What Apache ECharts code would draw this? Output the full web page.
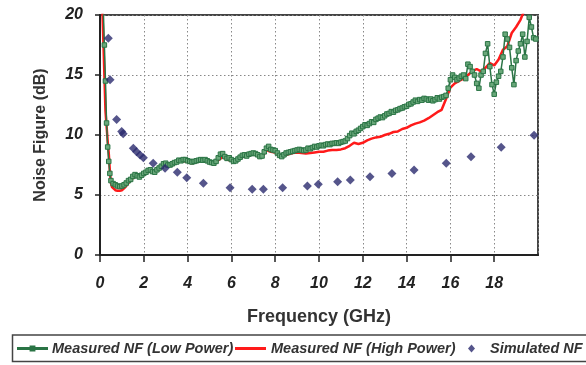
<!DOCTYPE html>
<html>
<head>
<meta charset="utf-8">
<script src="https://cdn.jsdelivr.net/npm/echarts@6/dist/echarts.min.js"></script>
<style>html,body{margin:0;padding:0;background:#fff;}#c{width:586px;height:365px;}</style>
</head>
<body>
<div id="c"></div>
<script>
// Measured NF (Low Power)
var freqLow = [0.10,0.15,0.20,0.25,0.30,0.35,0.40,0.45,0.50,0.60,0.70,0.80,0.90,1.00,1.10,1.20,1.30,1.40,1.50,1.60,1.70,1.80,1.90,2.00,2.10,2.20,2.30,2.40,2.50,2.60,2.70,2.80,2.90,3.00,3.10,3.20,3.30,3.40,3.50,3.60,3.70,3.80,3.90,4.00,4.10,4.20,4.30,4.40,4.50,4.60,4.70,4.80,4.90,5.00,5.10,5.20,5.30,5.40,5.50,5.60,5.70,5.80,5.90,6.00,6.10,6.20,6.30,6.40,6.50,6.60,6.70,6.80,6.90,7.00,7.10,7.20,7.30,7.40,7.50,7.60,7.70,7.80,7.90,8.00,8.10,8.20,8.30,8.40,8.50,8.60,8.70,8.80,8.90,9.00,9.10,9.20,9.30,9.40,9.50,9.60,9.70,9.80,9.90,10.0,10.1,10.2,10.3,10.4,10.5,10.6,10.7,10.8,10.9,11.0,11.1,11.2,11.3,11.4,11.5,11.6,11.7,11.8,11.9,12.0,12.1,12.2,12.3,12.4,12.5,12.6,12.7,12.8,12.9,13.0,13.1,13.2,13.3,13.4,13.5,13.6,13.7,13.8,13.9,14.0,14.1,14.2,14.3,14.4,14.5,14.6,14.7,14.8,14.9,15.0,15.1,15.2,15.3,15.4,15.5,15.6,15.7,15.8,15.9,16.0,16.1,16.2,16.3,16.4,16.5,16.6,16.7,16.8,16.9,17.0,17.1,17.2,17.3,17.4,17.5,17.6,17.7,17.8,17.9,18.0,18.1,18.2,18.3,18.4,18.5,18.6,18.7,18.8,18.9,19.0,19.1,19.2,19.3,19.4,19.5,19.6,19.7,19.8,19.9];
var nfLow = [23,20.5,17.5,14.5,11.0,9.0,7.8,6.8,6.2,5.95,5.85,5.75,5.7,5.75,5.85,6.0,6.2,6.3,6.55,6.7,6.6,6.5,6.65,6.8,6.9,7.05,7.1,6.95,6.9,7.1,7.25,7.4,7.6,7.65,7.5,7.5,7.6,7.7,7.75,7.9,7.85,7.95,7.95,7.85,7.8,7.75,7.8,7.85,7.9,7.95,7.9,7.95,7.85,7.75,7.7,7.65,7.8,8.1,8.4,8.45,8.2,8.05,8.1,7.95,7.8,7.85,8.0,8.15,8.3,8.35,8.25,8.4,8.45,8.5,8.45,8.35,8.2,8.25,8.6,8.9,9.05,8.8,8.75,8.7,8.5,8.3,8.2,8.35,8.5,8.55,8.6,8.65,8.7,8.75,8.8,8.75,8.7,8.75,8.9,8.85,8.95,9.05,9.0,9.1,9.15,9.1,9.2,9.25,9.2,9.3,9.3,9.35,9.3,9.4,9.45,9.5,9.7,9.95,10.15,10.1,10.3,10.4,10.55,10.7,10.85,10.8,10.95,11.1,11.05,11.3,11.4,11.5,11.45,11.6,11.75,11.8,11.95,11.9,12.05,12.1,12.2,12.25,12.35,12.4,12.55,12.6,12.75,12.9,12.8,12.95,12.9,13.05,13.0,12.9,13.0,12.85,12.95,13.1,13.0,13.15,13.2,13.3,13.9,14.6,15.0,14.8,14.6,14.75,14.9,15.0,14.7,15.9,15.7,15.3,15.0,14.3,13.9,15.0,15.3,16.8,17.6,15.7,14.2,13.4,14.4,14.9,15.3,16.5,18.4,18.0,17.3,15.6,14.2,16.2,17.0,17.6,18.4,16.5,17.8,19.8,19.0,18.1,18.0];

// Measured NF (High Power)
var freqHigh = [0.05,0.15,0.25,0.35,0.40,0.45,0.50,0.55,0.60,0.70,0.80,0.90,1.00,1.10,1.20,1.30,1.40,1.50,1.60,1.70,1.80,1.90,2.00,2.20,2.40,2.60,2.80,3.00,3.20,3.40,3.60,3.80,4.00,4.20,4.40,4.60,4.80,5.00,5.20,5.40,5.60,5.80,6.00,6.20,6.40,6.60,6.80,7.00,7.20,7.40,7.60,7.80,8.00,8.20,8.40,8.60,8.80,9.00,9.20,9.40,9.60,9.80,10.0,10.2,10.4,10.6,10.8,11.0,11.2,11.4,11.6,11.8,12.0,12.2,12.4,12.6,12.8,13.0,13.2,13.4,13.6,13.8,14.0,14.2,14.4,14.6,14.8,15.0,15.2,15.4,15.6,15.8,16.0,16.2,16.4,16.6,16.8,17.0,17.2,17.4,17.6,17.8,18.0,18.2,18.4,18.6,18.8,19.0,19.2,19.4,19.6];
var nfHigh = [24,18,12,9.5,8.5,7.0,6.0,5.65,5.5,5.4,5.35,5.35,5.4,5.55,5.75,6.0,6.2,6.4,6.55,6.5,6.45,6.6,6.75,6.95,6.9,7.05,7.3,7.55,7.45,7.6,7.8,7.85,7.75,7.65,7.75,7.85,7.85,7.65,7.55,7.9,8.15,7.95,7.85,7.75,8.05,8.25,8.3,8.4,8.25,8.15,8.75,8.6,8.55,8.2,8.25,8.4,8.5,8.55,8.5,8.45,8.5,8.55,8.6,8.6,8.7,8.75,8.75,8.8,8.9,9.1,9.35,9.25,9.35,9.55,9.7,9.8,9.85,10.0,10.1,10.25,10.3,10.5,10.6,10.8,10.95,11.05,11.2,11.4,11.65,11.9,12.1,13.0,13.95,14.3,14.5,14.7,15.0,15.3,15.5,15.3,15.6,16.0,15.8,16.3,17.1,17.4,18.5,19.0,19.6,20.5,21.5];

// Simulated NF
var freqSim = [0.38,0.46,0.76,0.99,1.06,1.52,1.67,1.83,1.98,2.43,2.97,3.53,3.96,4.72,5.94,6.95,7.46,8.34,9.47,9.97,10.85,11.43,12.33,13.33,14.34,15.81,16.94,18.32,19.82];
var nfSim = [18.06,14.6,11.3,10.3,10.1,8.9,8.6,8.33,8.1,7.64,7.22,6.9,6.44,5.97,5.61,5.47,5.47,5.61,5.75,5.89,6.11,6.25,6.53,6.8,7.08,7.64,8.19,8.97,9.97];

var nameLow = 'Measured NF (Low Power)';
var nameHigh = 'Measured NF (High Power)';
var nameSim = 'Simulated NF';

function pairs(xs, ys) { return xs.map(function (x, i) { return [x, ys[i]]; }); }

var FONT = '"Liberation Sans", Arial, sans-serif';
var chart = echarts.init(document.getElementById('c'), null, { renderer: 'canvas' });
function legendText(pad) {
  return { fontFamily: FONT, fontSize: 14.5, fontWeight: 'bold', fontStyle: 'italic', color: '#333', padding: [0, 0, 0, pad] };
}
var GREEN_LINE = '#2a7445';

chart.setOption({
  animation: false,
  backgroundColor: '#fff',
  grid: { left: 100, top: 15, width: 438, height: 240, show: true, borderColor: '#444', borderWidth: 2, backgroundColor: 'transparent' },
  graphic: [{
    type: 'rect', z: -1, shape: { x: 12.5, y: 335, width: 600, height: 26.5 },
    style: { fill: '#fff', stroke: '#444', lineWidth: 1.5 }
  }],
  legend: [
    { data: [{ name: nameLow, icon: 'path://M0,3.4L30,3.4L30,4.6L0,4.6Z M13,2L17,2L17,6L13,6Z', itemStyle: { color: GREEN_LINE } }],
      left: 17, top: 341, padding: 0, itemWidth: 29, itemHeight: 8, textStyle: legendText(0) },
    { data: [{ name: nameHigh, icon: 'rect', itemStyle: { color: '#ff1a1a' } }],
      left: 235, top: 341, padding: 0, itemWidth: 31, itemHeight: 3, textStyle: legendText(0) },
    { data: [{ name: nameSim, icon: 'diamond', itemStyle: { color: '#2b2b6e' } }],
      left: 468, top: 341, padding: 0, itemWidth: 7, itemHeight: 8, textStyle: legendText(10) }
  ],
  xAxis: {
    type: 'value', min: 0, max: 20, interval: 2,
    name: 'Frequency (GHz)', nameLocation: 'middle', nameGap: 53,
    nameTextStyle: { fontFamily: FONT, fontSize: 18, fontWeight: 'bold', color: '#333' },
    axisLine: { show: true, onZero: false, lineStyle: { color: '#222', width: 2 } },
    axisTick: { show: true, length: 7, lineStyle: { color: '#222', width: 1.5 } },
    axisLabel: { showMaxLabel: false, margin: 21, fontFamily: FONT, fontSize: 16, fontWeight: 'bold', fontStyle: 'italic', color: '#222' },
    splitLine: { show: true, lineStyle: { color: '#888', type: [1.5, 2.5], width: 1 } }
  },
  yAxis: {
    type: 'value', min: 0, max: 20, interval: 5,
    name: 'Noise Figure (dB)', nameLocation: 'middle', nameGap: 51,
    nameTextStyle: { fontFamily: FONT, fontSize: 16, fontWeight: 'bold', color: '#333' },
    axisLine: { show: true, onZero: false, lineStyle: { color: '#222', width: 2 } },
    axisTick: { show: true, length: 5, lineStyle: { color: '#222', width: 1.5 } },
    axisLabel: { margin: 17, fontFamily: FONT, fontSize: 16, fontWeight: 'bold', fontStyle: 'italic', color: '#222' },
    splitLine: { show: true, lineStyle: { color: '#888', type: [1.5, 2.5], width: 1 } }
  },
  series: [
    {
      name: nameHigh, type: 'line', data: pairs(freqHigh, nfHigh), z: 2,
      symbol: 'none', clip: true,
      lineStyle: { color: '#ff1a1a', width: 2.5 }, itemStyle: { color: '#ff1a1a' }
    },
    {
      name: nameLow, type: 'line', data: pairs(freqLow, nfLow), z: 3,
      symbol: 'rect', symbolSize: 4.5, showAllSymbol: true, clip: true,
      lineStyle: { color: GREEN_LINE, width: 1.5 },
      itemStyle: { color: '#6aa87a', borderColor: GREEN_LINE, borderWidth: 1 }
    },
    {
      name: nameSim, type: 'scatter', data: pairs(freqSim, nfSim), z: 4,
      symbol: 'diamond', symbolSize: 9,
      itemStyle: { color: '#2b2b6e' }
    }
  ]
});
</script>
</body>
</html>
